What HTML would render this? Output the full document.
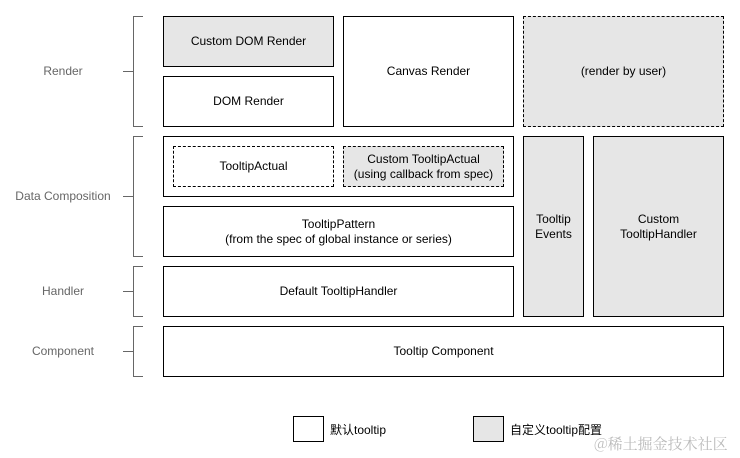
<!DOCTYPE html>
<html><head><meta charset="utf-8"><style>
body{margin:0;width:740px;height:458px;background:#fff;position:relative;overflow:hidden;font-family:"Liberation Sans","Noto Sans CJK SC",sans-serif;}
.b{position:absolute;box-sizing:border-box;border:1px solid #000;display:flex;align-items:center;justify-content:center;text-align:center;font-size:12px;color:#000;line-height:15px;}
.g{background:#e6e6e6;}
.d{border-style:dashed;}
.l{position:absolute;width:126px;text-align:center;font-size:12px;color:#666;}
.ln{position:absolute;background:#666;}
</style></head><body>
<div class="b g" style="left:163px;top:16px;width:171px;height:51px">Custom DOM Render</div>
<div class="b" style="left:163px;top:76px;width:171px;height:51px">DOM Render</div>
<div class="b" style="left:343px;top:16px;width:171px;height:111px">Canvas Render</div>
<div class="b g d" style="left:523px;top:16px;width:201px;height:111px">(render by user)</div>
<div class="b" style="left:163px;top:136px;width:351px;height:61px"></div>
<div class="b d" style="left:173px;top:146px;width:161px;height:41px">TooltipActual</div>
<div class="b g d" style="left:343px;top:146px;width:161px;height:41px">Custom TooltipActual<br>(using callback from spec)</div>
<div class="b" style="left:163px;top:206px;width:351px;height:51px">TooltipPattern<br>(from the spec of global instance or series)</div>
<div class="b" style="left:163px;top:266px;width:351px;height:51px">Default TooltipHandler</div>
<div class="b g" style="left:523px;top:136px;width:61px;height:181px">Tooltip<br>Events</div>
<div class="b g" style="left:593px;top:136px;width:131px;height:181px">Custom<br>TooltipHandler</div>
<div class="b" style="left:163px;top:326px;width:561px;height:51px">Tooltip Component</div>

<div class="l" style="left:0;top:64px">Render</div>
<div class="l" style="left:0;top:189px">Data Composition</div>
<div class="l" style="left:0;top:284px">Handler</div>
<div class="l" style="left:0;top:344px">Component</div>

<!-- brackets -->
<div class="ln" style="left:133px;top:16px;width:1px;height:111px"></div>
<div class="ln" style="left:133px;top:16px;width:10px;height:1px"></div>
<div class="ln" style="left:133px;top:126px;width:10px;height:1px"></div>
<div class="ln" style="left:123px;top:71px;width:10px;height:1px"></div>

<div class="ln" style="left:133px;top:136px;width:1px;height:121px"></div>
<div class="ln" style="left:133px;top:136px;width:10px;height:1px"></div>
<div class="ln" style="left:133px;top:256px;width:10px;height:1px"></div>
<div class="ln" style="left:123px;top:196px;width:10px;height:1px"></div>

<div class="ln" style="left:133px;top:266px;width:1px;height:51px"></div>
<div class="ln" style="left:133px;top:266px;width:10px;height:1px"></div>
<div class="ln" style="left:133px;top:316px;width:10px;height:1px"></div>
<div class="ln" style="left:123px;top:291px;width:10px;height:1px"></div>

<div class="ln" style="left:133px;top:326px;width:1px;height:51px"></div>
<div class="ln" style="left:133px;top:326px;width:10px;height:1px"></div>
<div class="ln" style="left:133px;top:376px;width:10px;height:1px"></div>
<div class="ln" style="left:123px;top:351px;width:10px;height:1px"></div>

<!-- legend -->
<div class="b" style="left:293px;top:416px;width:31px;height:26px"></div>
<div style="position:absolute;left:330px;top:421px;font-size:12px">默认tooltip</div>
<div class="b g" style="left:473px;top:416px;width:31px;height:26px"></div>
<div style="position:absolute;left:510px;top:421px;font-size:12px">自定义tooltip配置</div>
<div style="position:absolute;left:594px;top:433px;font-size:15px;color:#bbb;font-family:'Noto Serif CJK SC','Liberation Serif',serif">@稀土掘金技术社区</div>
</body></html>
